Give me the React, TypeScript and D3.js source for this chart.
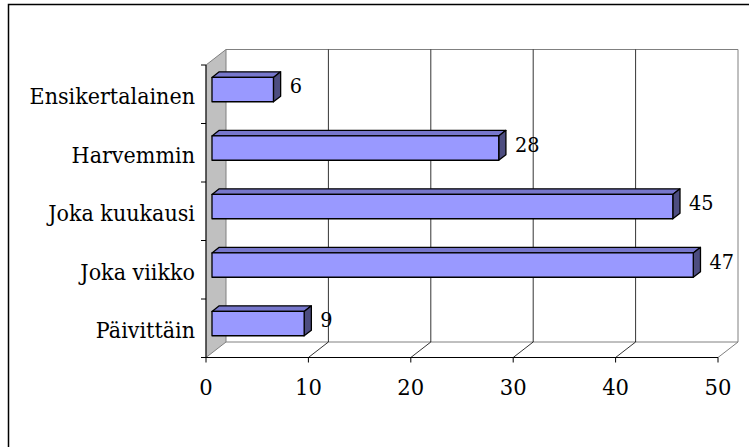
import React from "react";
import * as d3 from "d3";

// Survey answers: how often the respondent visits
const categories = ["Ensikertalainen", "Harvemmin", "Joka kuukausi", "Joka viikko", "Päivittäin"];
const counts = [6, 28, 45, 47, 9];
const xTicks = [0, 10, 20, 30, 40, 50];

const W = 749;
const H = 447;

// plot frame (front plane) and 3D depth offset
const FRONT_LEFT = 206;
const FRONT_RIGHT = 718;
const FRONT_TOP = 65;
const FRONT_BOTTOM = 357.5;
const DX = 20;
const DY = -15.5;
// bar occupies this slice of the depth
const BAR_D0 = 0.3;
const BAR_D1 = 0.66;

const SERIF = "DejaVu Serif, Liberation Serif, serif";
// the serif face is set slightly condensed
const SQUEEZE = 0.92;

type LabelProps = {
  x: number;
  y: number;
  size: number;
  anchor?: "start" | "middle" | "end";
  children: React.ReactNode;
};

function Label({ x, y, size, anchor = "start", children }: LabelProps) {
  return (
    <text
      transform={`translate(${x},${y}) scale(${SQUEEZE},1)`}
      textAnchor={anchor}
      dominantBaseline="central"
      fontFamily={SERIF}
      fontSize={size}
      fill="#000"
    >
      {children}
    </text>
  );
}

export default function App() {
  const x = d3.scaleLinear().domain([0, 50]).range([FRONT_LEFT, FRONT_RIGHT]);
  const y = d3.scaleBand<string>().domain(categories).range([FRONT_TOP, FRONT_BOTTOM]);
  const bw = y.bandwidth();
  const barH = bw * 0.416;

  const pts = (arr: [number, number][]) => arr.map((p) => p.join(",")).join(" ");

  const b0x = DX * BAR_D0, b0y = DY * BAR_D0;
  const b1x = DX * BAR_D1, b1y = DY * BAR_D1;

  return (
    <svg
      width={W}
      height={H}
      fontFamily={SERIF}
      style={{ position: "absolute", left: 0, top: 0, background: "#fff" }}
    >
      {/* outer chart frame */}
      <rect x={8.5} y={4.5} width={900} height={600} fill="none" stroke="#000" strokeWidth={1.5} />

      {/* left side wall */}
      <polygon
        points={pts([
          [FRONT_LEFT, FRONT_TOP],
          [FRONT_LEFT + DX, FRONT_TOP + DY],
          [FRONT_LEFT + DX, FRONT_BOTTOM + DY],
          [FRONT_LEFT, FRONT_BOTTOM],
        ])}
        fill="#c0c0c0"
        stroke="#808080"
        strokeWidth={1}
      />

      {/* back wall outline */}
      <polyline
        points={pts([
          [FRONT_LEFT + DX, FRONT_TOP + DY],
          [FRONT_RIGHT + DX, FRONT_TOP + DY],
          [FRONT_RIGHT + DX, FRONT_BOTTOM + DY],
          [FRONT_LEFT + DX, FRONT_BOTTOM + DY],
        ])}
        fill="none"
        stroke="#808080"
        strokeWidth={1}
      />
      {/* floor right edge */}
      <line
        x1={FRONT_RIGHT}
        y1={FRONT_BOTTOM}
        x2={FRONT_RIGHT + DX}
        y2={FRONT_BOTTOM + DY}
        stroke="#808080"
      />

      {/* gridlines on back wall and floor */}
      {xTicks
        .filter((t) => t > 0 && t < 50)
        .map((t) => (
          <g key={"g" + t}>
            <line
              x1={x(t) + DX}
              x2={x(t) + DX}
              y1={FRONT_TOP + DY}
              y2={FRONT_BOTTOM + DY}
              stroke="#000"
              strokeWidth={0.8}
            />
            <line
              x1={x(t)}
              y1={FRONT_BOTTOM}
              x2={x(t) + DX}
              y2={FRONT_BOTTOM + DY}
              stroke="#000"
              strokeWidth={0.8}
            />
          </g>
        ))}

      {/* value axis */}
      <line x1={FRONT_LEFT} x2={FRONT_RIGHT} y1={FRONT_BOTTOM} y2={FRONT_BOTTOM} stroke="#000" />
      {xTicks.map((t) => (
        <g key={"t" + t}>
          <line x1={x(t)} x2={x(t)} y1={FRONT_BOTTOM} y2={FRONT_BOTTOM + 5} stroke="#000" />
          <Label x={x(t)} y={FRONT_BOTTOM + 29} size={23} anchor="middle">
            {t}
          </Label>
        </g>
      ))}

      {/* category axis */}
      <line x1={FRONT_LEFT} x2={FRONT_LEFT} y1={FRONT_TOP} y2={FRONT_BOTTOM} stroke="#000" />
      {[...categories.map((c) => y(c) as number), FRONT_BOTTOM].map((v, i) => (
        <line key={"ct" + i} x1={FRONT_LEFT - 5} x2={FRONT_LEFT} y1={v} y2={v} stroke="#000" />
      ))}
      {categories.map((c) => (
        <Label key={"cl" + c} x={195} y={(y(c) as number) + bw / 2 + 2} size={22.5} anchor="end">
          {c}
        </Label>
      ))}

      {/* 3D bars */}
      {categories.map((c, i) => {
        const v = counts[i];
        const cy = (y(c) as number) + bw / 2;
        const top = cy - barH / 2;
        const bot = cy + barH / 2;
        const xl = x(0);
        const xr = x(v);
        const front: [number, number][] = [
          [xl + b0x, top + b0y],
          [xr + b0x, top + b0y],
          [xr + b0x, bot + b0y],
          [xl + b0x, bot + b0y],
        ];
        const topFace: [number, number][] = [
          [xl + b0x, top + b0y],
          [xl + b1x, top + b1y],
          [xr + b1x, top + b1y],
          [xr + b0x, top + b0y],
        ];
        const side: [number, number][] = [
          [xr + b0x, top + b0y],
          [xr + b1x, top + b1y],
          [xr + b1x, bot + b1y],
          [xr + b0x, bot + b0y],
        ];
        return (
          <g key={"b" + c}>
            <polygon points={pts(topFace)} fill="#7777cc" stroke="#000" strokeWidth={1.3} strokeLinejoin="round" />
            <polygon points={pts(side)} fill="#4d4d80" stroke="#000" strokeWidth={1.3} strokeLinejoin="round" />
            <polygon points={pts(front)} fill="#9999ff" stroke="#000" strokeWidth={1.3} strokeLinejoin="round" />
            <Label x={xr + b1x + 9} y={cy + (b0y + b1y) / 2 - 1} size={21}>
              {v}
            </Label>
          </g>
        );
      })}
    </svg>
  );
}
